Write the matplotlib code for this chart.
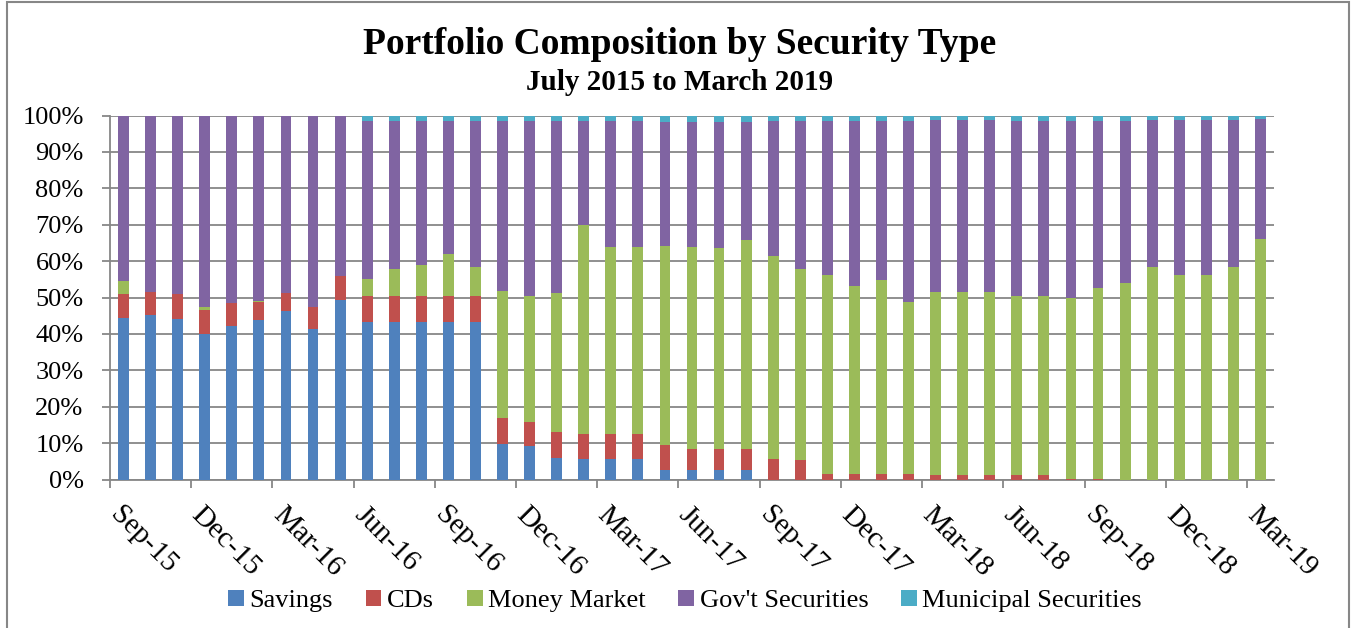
import matplotlib.pyplot as plt
import numpy as np
from matplotlib.patches import Rectangle

# monthly categories, Sep-15 .. Mar-19 (43 bars)
month_names = ['Jan', 'Feb', 'Mar', 'Apr', 'May', 'Jun',
               'Jul', 'Aug', 'Sep', 'Oct', 'Nov', 'Dec']
months = []
for k in range(43):
    m = (8 + k) % 12
    y = 15 + (8 + k) // 12
    months.append('%s-%02d' % (month_names[m], y))

# values, in percent
savings = [44.3, 45.1, 44.1, 39.9, 42.3, 43.7, 46.3, 41.3, 49.3, 43.4,
           43.4, 43.4, 43.2, 43.2, 9.7, 9.2, 6.0, 5.7, 5.7, 5.7,
           2.7, 2.7, 2.7, 2.7, 0, 0, 0, 0, 0, 0,
           0, 0, 0, 0, 0, 0, 0, 0, 0, 0,
           0, 0, 0]
cds = [6.7, 6.5, 6.8, 6.8, 6.1, 5.1, 5.0, 6.0, 6.5, 7.1,
       6.9, 6.9, 7.1, 7.1, 7.1, 6.7, 7.1, 6.9, 6.7, 6.8,
       6.9, 5.7, 5.6, 5.6, 5.7, 5.4, 1.6, 1.6, 1.6, 1.4,
       1.2, 1.2, 1.2, 1.2, 1.2, 0.1, 0.1, 0, 0, 0,
       0, 0, 0]
money_market = [3.4, 0, 0, 0.6, 0.2, 0.2, 0, 0, 0, 4.5,
                7.4, 8.6, 11.6, 8.2, 34.9, 34.6, 38.0, 57.3, 51.6, 51.5,
                54.6, 55.4, 55.4, 57.4, 55.8, 52.4, 54.5, 51.5, 53.1, 47.3,
                50.3, 50.4, 50.4, 49.3, 49.3, 49.8, 52.5, 53.9, 58.5, 56.1,
                56.1, 58.4, 66.1]
muni = [0, 0, 0, 0, 0, 0, 0, 0, 0, 1.6,
        1.6, 1.6, 1.6, 1.6, 1.5, 1.6, 1.6, 1.6, 1.6, 1.6,
        1.7, 1.7, 1.7, 1.7, 1.6, 1.6, 1.6, 1.6, 1.6, 1.5,
        1.3, 1.3, 1.3, 1.5, 1.5, 1.5, 1.4, 1.4, 1.2, 1.2,
        1.2, 1.2, 0.9]
govt = [100 - a - b - c - d for a, b, c, d in zip(savings, cds, money_market, muni)]

series = [('Savings', savings, '#4F81BD'),
          ('CDs', cds, '#C0504D'),
          ('Money Market', money_market, '#9BBB59'),
          ("Gov't Securities", govt, '#8064A2'),
          ('Municipal Securities', muni, '#4BACC6')]

plt.rcParams['font.family'] = ['Liberation Serif', 'DejaVu Serif']

fig = plt.figure(figsize=(13.51, 6.28), dpi=100)
ax = fig.add_axes([110 / 1351, 1 - 479.5 / 628, 1164 / 1351, 364 / 628])

x = np.arange(len(months))
bottom = np.zeros(len(months))
for name, vals, color in series:
    vals = np.array(vals)
    ax.bar(x, vals, 0.4, bottom=bottom, color=color, label=name, zorder=3)
    bottom += vals

ax.set_xlim(-0.5, len(months) - 0.5)
ax.set_ylim(0, 100)
ax.set_yticks(np.arange(0, 101, 10))
ax.set_yticklabels(['%d%%' % v for v in range(0, 101, 10)], fontsize=19)
ax.yaxis.grid(True, color='#878787', linewidth=1.3, zorder=0)

# tick marks between categories (every 3rd), labels under the first bar of each group
ax.set_xticks(np.arange(-0.5, len(months) - 0.5, 3), minor=True)
label_pos = np.arange(0, len(months), 3)
ax.set_xticks(label_pos)
ax.set_xticklabels([months[i] for i in label_pos], fontsize=21,
                   rotation=-45, ha='left', va='top', rotation_mode='anchor')

for s in ['top', 'right']:
    ax.spines[s].set_visible(False)
for s in ['left', 'bottom']:
    ax.spines[s].set_color('#878787')
    ax.spines[s].set_linewidth(1.3)
ax.tick_params(axis='both', which='both', color='#878787', width=1.3, length=6)
ax.tick_params(axis='x', which='major', length=0, pad=16)
ax.tick_params(axis='y', pad=13)

fig.text(0.503, 1 - 45 / 628, 'Portfolio Composition by Security Type',
         ha='center', va='center', fontsize=27, fontweight='bold')
fig.text(0.503, 1 - 83 / 628, 'July 2015 to March 2019',
         ha='center', va='center', fontsize=21, fontweight='bold')

fig.legend(loc='center', bbox_to_anchor=(685 / 1351, 1 - 601 / 628), ncol=5,
           frameon=False, fontsize=19, handlelength=0.6, handleheight=0.6,
           handletextpad=0.2, columnspacing=1.25)

fig.patches.append(Rectangle((7 / 1351, -0.01), 1342 / 1351, 1.0 - 2 / 628 + 0.01,
                             transform=fig.transFigure, fill=False,
                             edgecolor='#878787', linewidth=1.5))

fig.savefig('out.png', dpi=100)
